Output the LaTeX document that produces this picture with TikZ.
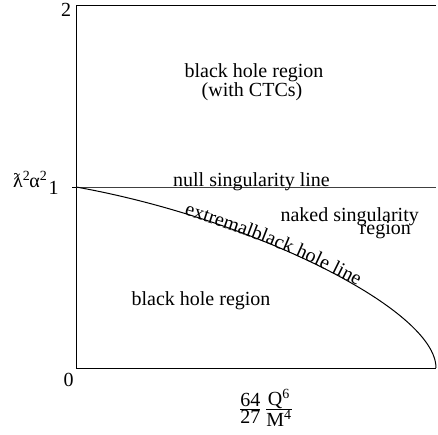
\documentclass[tikz,border=0pt]{standalone}
\usepackage{fontspec}
\setmainfont{Liberation Serif}
\usetikzlibrary{decorations.text, positioning}
\newcommand{\lblsize}{\fontsize{20bp}{22bp}\selectfont}
\tikzset{
  axisline/.style  = {line width=0.9bp, black},
  nullline/.style  = {line width=0.9bp, black!75},
  ehline/.style    = {line width=1bp, black},
  lbl/.style       = {font=\lblsize, inner sep=0pt},
}

\begin{document}
\begin{tikzpicture}[x=1bp,y=1bp]
  \useasboundingbox (0,0) rectangle (438,435);
  % frame and axes
  \draw[axisline] (436,430) -- (76,430) -- (76,67) -- (436,67);
  \draw[nullline] (76,248) -- (436,248);
  \draw[axisline] (72,248) -- (76,248);
  % extremal black hole curve
  \draw[ehline] (76,248) .. controls (250,217) and (436,126) .. (436,67);
  \path[decorate, decoration={text along path, text align=left,
        text={|\lblsize|extremalblack hole line}}]
    (184,220) .. controls (244,202) and (300,180) .. (360,148);
  % tick labels
  \node[lbl, anchor=base] (ytwo)  at (66,418) {2};
  \node[lbl, anchor=base] (yone)  at (53.5,240) {1};
  \node[lbl, anchor=base] (yzero) at (68.5,48) {0};
  \node[lbl, anchor=base west] (ylabel) at (13,247)
    {ƛ\textsuperscript{2}\kern-1bp α\textsuperscript{2}};
  \node[lbl] (xlabel) at (266,27)
    {$\frac{\mbox{64}}{\mbox{27}}\,\frac{\mbox{Q\textsuperscript{6}}}{\mbox{M\textsuperscript{4}}}$};
  % regions
  \node[lbl, anchor=base] (ctcregion) at (254,357) {black hole region};
  \node[lbl, anchor=base] (ctcnote)   at (252,338) {(with CTCs)};
  \node[lbl, anchor=base] (nullsing)  at (251.5,248) {null singularity line};
  \node[lbl, anchor=base east] (naked)    at (419,213) {naked singularity};
  \node[lbl, anchor=base east] (nakedreg) at (411,200.5) {region};
  \node[lbl, anchor=base] (bhregion)  at (201,129) {black hole region};
\end{tikzpicture}
\end{document}
